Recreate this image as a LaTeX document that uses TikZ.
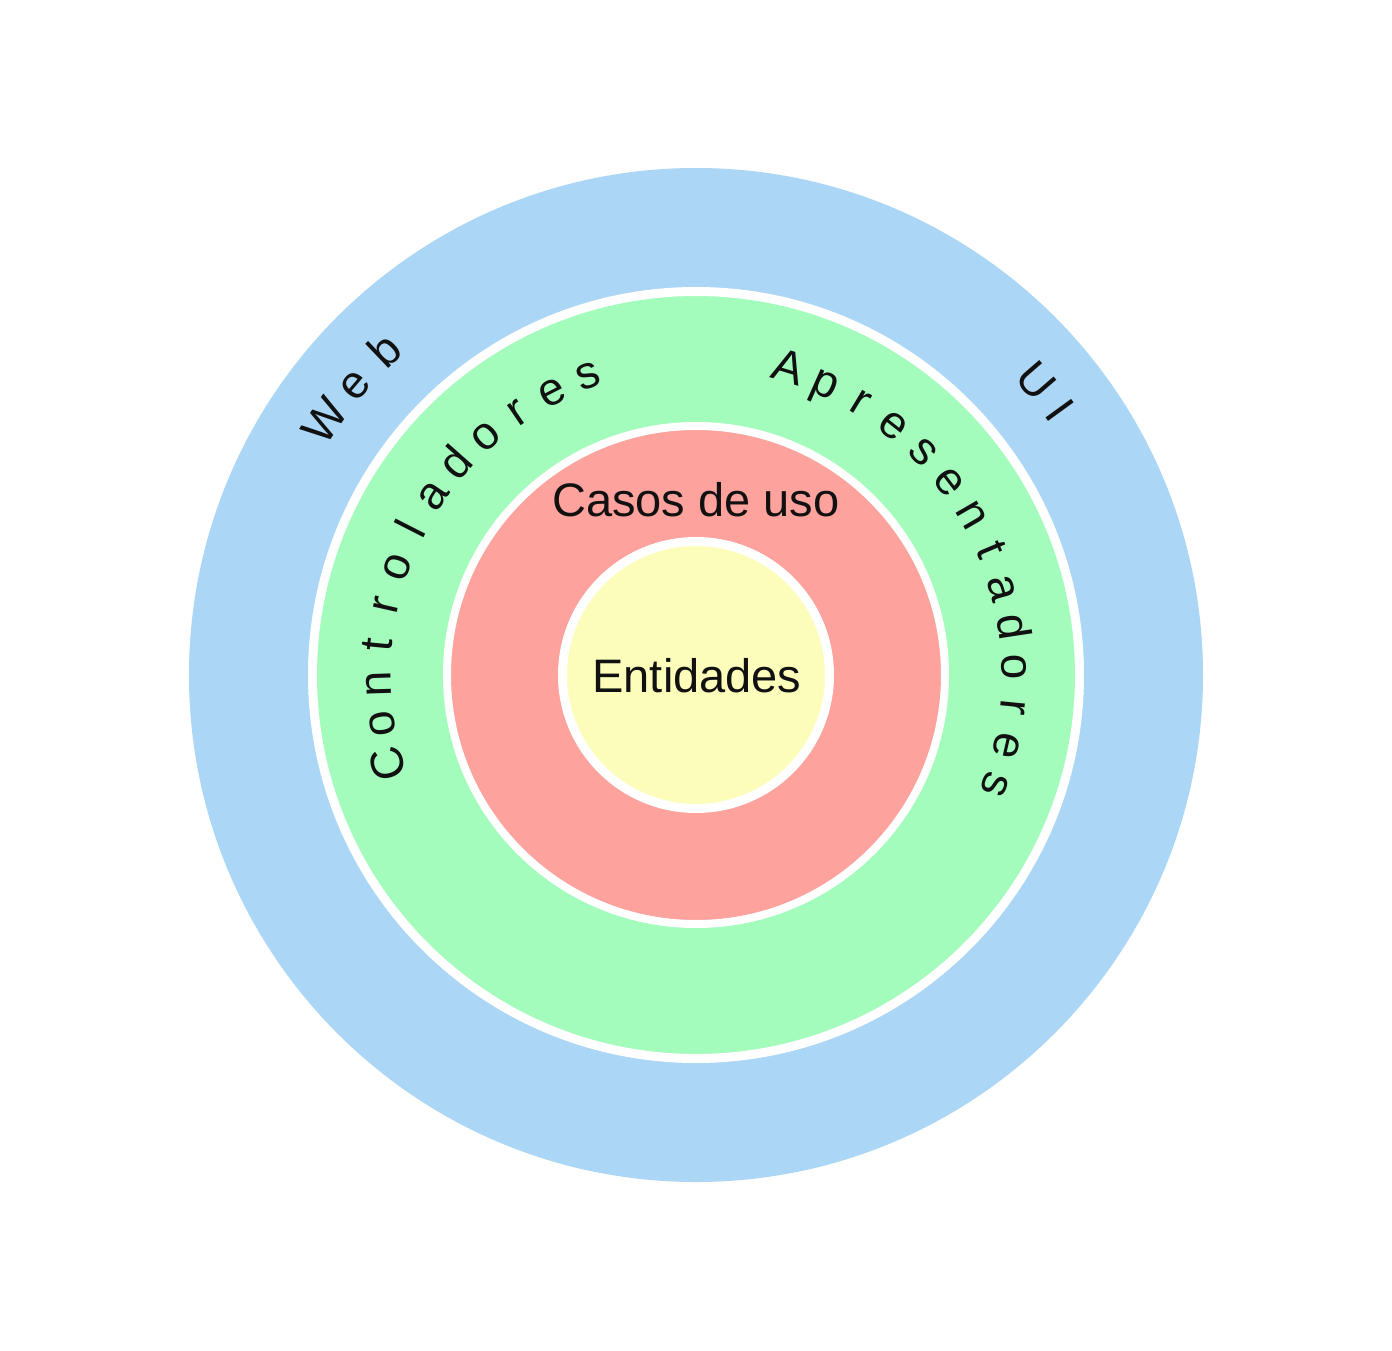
\documentclass[tikz,border=0pt]{standalone}
\usepackage{fontspec}
\setmainfont{Liberation Sans}
\definecolor{ringblue}{HTML}{ABD6F5}
\definecolor{ringgreen}{HTML}{A3FCBB}
\definecolor{ringred}{HTML}{FDA29C}
\definecolor{ringyellow}{HTML}{FCFDBB}
\definecolor{inktext}{HTML}{111111}
\tikzset{
  ring/.style={draw=white, line width=9pt},
  label/.style={anchor=base, inner sep=0pt, text=inktext},
}
% #1 baseline radius, #2 angle of first letter centre, #3 angle of last letter centre, #4 letters, #5 id
\newcommand\arcword[5]{%
  \gdef\awSum{0}\gdef\awN{0}\gdef\awFirst{0}\gdef\awLast{0}%
  \foreach \ch in {#4}{%
    \setbox0=\hbox{\ch}%
    \pgfmathsetmacro\awW{\the\wd0}%
    \ifnum\awN=0 \global\let\awFirst\awW\fi
    \global\let\awLast\awW
    \pgfmathsetmacro\awTmp{\awSum+\awW}\global\let\awSum\awTmp
    \pgfmathtruncatemacro\awTmp{\awN+1}\global\let\awN\awTmp
  }%
  \pgfmathsetmacro\awTrack{(((#2)-(#3))*pi/180*(#1) - (\awSum-\awFirst/2-\awLast/2))/(\awN-1)}%
  \pgfmathsetmacro\awTmp{(#2)+(\awFirst/2)/(#1)*180/pi}\global\let\awCur\awTmp
  \foreach \ch [count=\i] in {#4}{%
    \setbox0=\hbox{\ch}%
    \pgfmathsetmacro\awW{\the\wd0}%
    \pgfmathsetmacro\awMid{\awCur-(\awW/2)/(#1)*180/pi}%
    \node[label, rotate=\awMid-90] (#5\i) at (\awMid:#1) {\ch};
    \pgfmathsetmacro\awTmp{\awCur-(\awW+\awTrack)/(#1)*180/pi}\global\let\awCur\awTmp
  }%
}
\begin{document}
\begin{tikzpicture}[x=1pt,y=1pt]
  \useasboundingbox (-696,-675) rectangle (696,675);
  \fill[ringblue] (0,0) circle (507);
  \draw[ring, fill=ringgreen] (0,0) circle (383.5);
  \draw[ring, line width=8pt, fill=ringred] (0,0) circle (249);
  \draw[ring, fill=ringyellow] (0,0) circle (133.5);
  \coordinate (C) at (0,0);
  \fontsize{47}{52}\selectfont
  \node[label] (casos) at (0,159) {Casos de uso};
  \node[label] (ent) at (1,-17) {Entidades};
  \fontsize{46}{50}\selectfont
  \arcword{434}{145.6}{133.7}{W,e,b}{web}
  \arcword{434}{40.9}{36.0}{U,I}{ui}
  \arcword{305}{196.1}{109.8}{C,o,n,t,r,o,l,a,d,o,r,e,s}{ctl}
  \arcword{306}{73.2}{-20.1}{A,p,r,e,s,e,n,t,a,d,o,r,e,s}{apr}
\end{tikzpicture}
\end{document}
